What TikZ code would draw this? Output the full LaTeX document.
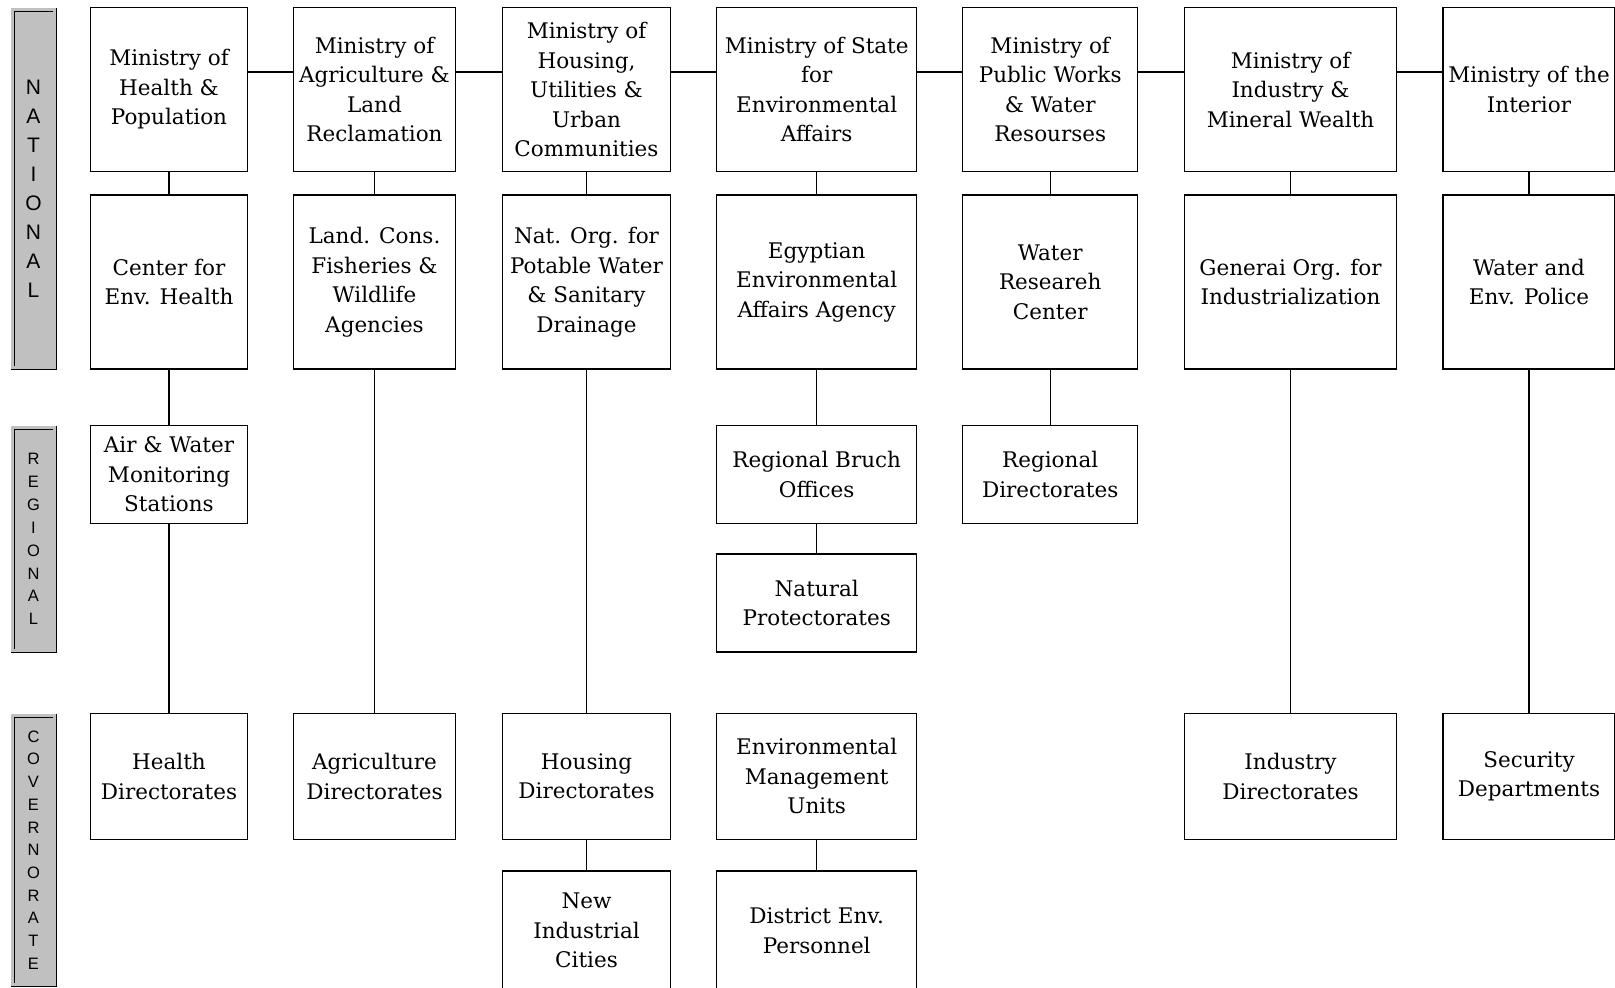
\documentclass[tikz,border=0pt]{standalone}
\usepackage{fontspec}
\setmainfont{DejaVu Serif}
\newfontfamily\barfont{Liberation Sans}
\usepackage{tikz}
\usetikzlibrary{positioning}
\definecolor{tierGrey}{HTML}{C0C0C0}
\tikzset{
  %% boxes of the organisation chart
  orgbox/.style  = {draw=black, line width=1.2pt, fill=white, align=center,
                    inner sep=2pt, font=\fontsize{21.5}{29.5}\selectfont},
  %% plain connectors, no heads
  link/.style    = {draw=black, line width=1.2pt},
  %% the grey level bars on the left
  tierbar/.style = {draw=black, line width=0.9pt, double=tierGrey,
                    double distance=2.2pt, fill=tierGrey, align=center,
                    minimum width=42, inner sep=0pt},
}

\begin{document}
\begin{tikzpicture}[x=1pt, y=-1pt]
\useasboundingbox (0,0) rectangle (1615,988);

%% Level bars.
\node[tierbar, minimum height=358,
      font=\barfont\fontsize{21}{29}\selectfont] (natBar) at (33.5, 188.5)
     {N\\A\\T\\I\\O\\N\\A\\L};
\node[tierbar, minimum height=223,
      font=\barfont\fontsize{16.5}{22.9}\selectfont] (regBar) at (33.5, 539)
     {R\\E\\G\\I\\O\\N\\A\\L};
\node[tierbar, minimum height=269,
      font=\barfont\fontsize{16.5}{22.7}\selectfont] (covBar) at (33.5, 850)
     {C\\O\\V\\E\\R\\N\\O\\R\\A\\T\\E};

%% National level: ministries.
\node[orgbox, minimum width=157, minimum height=164] (minHealth) at (169, 89.5)
     {Ministry of\\Health \&\\Population};
\node[orgbox, minimum width=162, minimum height=164] (minAgri) at (374.5, 89.5)
     {Ministry of\\Agriculture \&\\Land\\Reclamation};
\node[orgbox, minimum width=168, minimum height=164] (minHousing) at (586.5, 89.5)
     {Ministry of\\Housing,\\Utilities \&\\Urban\\Communities};
\node[orgbox, minimum width=200, minimum height=164] (minEnv) at (816.7, 89.5)
     {Ministry of State\\for\\Environmental\\Affairs};
\node[orgbox, minimum width=175, minimum height=164] (minWater) at (1050.2, 89.5)
     {Ministry of\\Public Works\\\& Water\\Resourses};
\node[orgbox, minimum width=212, minimum height=164] (minIndustry) at (1290.5, 89.5)
     {Ministry of\\Industry \&\\Mineral Wealth};
\node[orgbox, minimum width=172, minimum height=164] (minInterior) at (1529, 89.5)
     {Ministry of the\\Interior};

\coordinate (hline) at (0, 72);
\foreach \a/\b in {minHealth/minAgri, minAgri/minHousing, minHousing/minEnv,
                   minEnv/minWater, minWater/minIndustry, minIndustry/minInterior}
  \draw[link] (\a.east |- hline) -- (\b.west |- hline);

%% National level: agencies.
\node[orgbox, minimum width=157, minimum height=174] (ctrEnvHealth) at (169, 282)
     {Center for\\Env. Health};
\node[orgbox, minimum width=162, minimum height=174] (agriAgencies) at (374.5, 282)
     {Land. Cons.\\Fisheries \&\\Wildlife\\Agencies};
\node[orgbox, minimum width=168, minimum height=174] (natOrgWater) at (586.5, 282)
     {Nat. Org. for\\Potable Water\\\& Sanitary\\Drainage};
\node[orgbox, minimum width=200, minimum height=174] (eeaa) at (816.7, 282)
     {Egyptian\\Environmental\\Affairs Agency};
\node[orgbox, minimum width=175, minimum height=174] (waterResearch) at (1050.2, 282)
     {Water\\Researeh\\Center};
\node[orgbox, minimum width=212, minimum height=174] (orgIndustry) at (1290.5, 282)
     {Generai Org. for\\Industrialization};
\node[orgbox, minimum width=172, minimum height=174] (envPolice) at (1529, 282)
     {Water and\\Env. Police};

%% Regional level.
\node[orgbox, minimum width=157, minimum height=98] (airWater) at (169, 474.6)
     {Air \& Water\\Monitoring\\Stations};
\node[orgbox, minimum width=200, minimum height=98] (regBranch) at (816.7, 474.6)
     {Regional Bruch\\Offices};
\node[orgbox, minimum width=175, minimum height=98] (regDirect) at (1050.2, 474.6)
     {Regional\\Directorates};
\node[orgbox, minimum width=200, minimum height=98] (natProtect) at (816.7, 603)
     {Natural\\Protectorates};

%% Governorate level.
\node[orgbox, minimum width=157, minimum height=126] (healthDir) at (169, 776.3)
     {Health\\Directorates};
\node[orgbox, minimum width=162, minimum height=126] (agriDir) at (374.5, 776.3)
     {Agriculture\\Directorates};
\node[orgbox, minimum width=168, minimum height=126] (housingDir) at (586.5, 776.3)
     {Housing\\Directorates};
\node[orgbox, minimum width=200, minimum height=126] (envUnits) at (816.7, 776.3)
     {Environmental\\Management\\Units};
\node[orgbox, minimum width=212, minimum height=126] (industryDir) at (1290.5, 776.3)
     {Industry\\Directorates};
\node[orgbox, minimum width=172, minimum height=126] (securityDir) at (1529, 776.3)
     {Security\\Departments};
\node[orgbox, minimum width=168, minimum height=119] (newCities) at (586.5, 930.5)
     {New\\Industrial\\Cities};
\node[orgbox, minimum width=200, minimum height=119] (districtEnv) at (816.7, 930.5)
     {District Env.\\Personnel};

\foreach \a/\b in {minHealth/ctrEnvHealth, ctrEnvHealth/airWater, airWater/healthDir,
                   minAgri/agriAgencies, agriAgencies/agriDir,
                   minHousing/natOrgWater, natOrgWater/housingDir, housingDir/newCities,
                   minEnv/eeaa, eeaa/regBranch, regBranch/natProtect, envUnits/districtEnv,
                   minWater/waterResearch, waterResearch/regDirect,
                   minIndustry/orgIndustry, orgIndustry/industryDir,
                   minInterior/envPolice, envPolice/securityDir}
  \draw[link] (\a) -- (\b);

\end{tikzpicture}
\end{document}
